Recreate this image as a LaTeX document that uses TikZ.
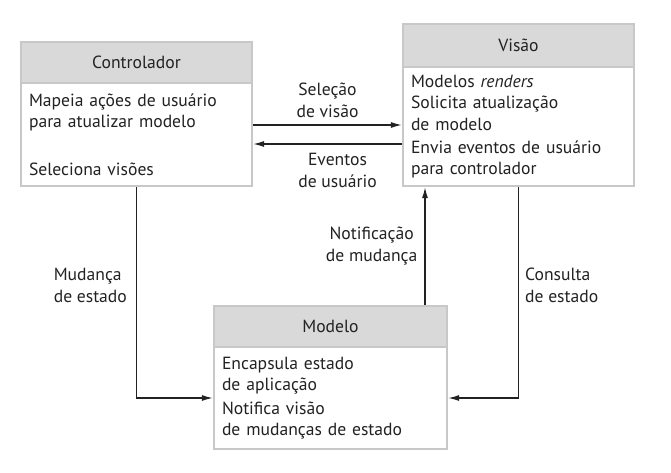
\documentclass[tikz,border=0pt]{standalone}
\usepackage{fontspec}
\setmainfont{PT Sans}
\usetikzlibrary{positioning,arrows.meta}
\definecolor{headfill}{HTML}{D9D9DA}
\definecolor{boxline}{HTML}{C8C8C8}
\definecolor{ink}{HTML}{222222}

\begin{document}
\begin{tikzpicture}[x = 1pt, y = -1pt,
    every node/.style = {font = \fontsize{17.6}{21.5}\selectfont, text = ink},
    head/.style = {draw = boxline, fill = headfill, line width = 2.5pt, outer sep = 0pt, minimum width = 231pt, minimum height = 41pt},
    body/.style = {draw = boxline, fill = white, line width = 2.5pt, outer sep = 0pt, inner xsep = 8pt, text width = 215pt, align = left},
    lbl/.style = {inner sep = 3pt, font = \fontsize{17.6}{22}\selectfont},
    flow/.style = {draw = ink, line width = 1.3pt, -{Latex[length = 11pt, width = 6pt]}, shorten > = 1.2pt, shorten < = 1.2pt}]
    \useasboundingbox (0,0) rectangle (671,472);
    \node[head] (ctrlhead) at (136.5,62.5) {Controlador};
    \node[body, below = 0pt of ctrlhead, minimum height = 103pt] (ctrlbody) {Mapeia ações de usuário\\ para atualizar modelo\\[26pt] Seleciona visões};
    \node[head, minimum height = 43pt] (vishead) at (518.5,45.5) {Visão};
    \node[body, below = 0pt of vishead, minimum height = 119pt] (visbody) {Modelos \textit{renders}\\ Solicita atualização\\ de modelo\\[1.5pt] Envia eventos de usuário\\ para controlador};
    \node[head, minimum width = 233pt] (modhead) at (330.5,326.5) {Modelo};
    \node[body, below = 0pt of modhead, text width = 217pt, minimum height = 102pt] (modbody) {Encapsula estado\\ de aplicação\\[2pt] Notifica visão\\ de mudanças de estado};
    \coordinate (notif) at ([xshift = 94.5pt]modhead.north);
    \draw[flow] ([yshift = 9.5pt]ctrlbody.east) -- node[lbl, align = center, above = 4pt] (selecao) {Seleção\\de visão} ([yshift = 9.5pt]ctrlbody.east -| visbody.west);
    \draw[flow] ([yshift = -9.5pt]ctrlbody.east -| visbody.west) -- node[lbl, align = center, below = 6pt, xshift = 10pt] (eventos) {Eventos\\de usuário} ([yshift = -9.5pt]ctrlbody.east);
    \draw[flow] (ctrlbody.south) |- node[lbl, align = left, pos = 0.235, left = 6pt] (mudanca) {Mudança\\de estado} (modbody.west);
    \draw[flow] (notif) -- node[lbl, align = center, pos = 0.5, left = 4pt] (notificacao) {Notificação\\de mudança} (notif |- visbody.south);
    \draw[flow] (visbody.south) |- node[lbl, align = left, pos = 0.235, right = 3pt] (consulta) {Consulta\\de estado} (modbody.east);
\end{tikzpicture}
\end{document}
